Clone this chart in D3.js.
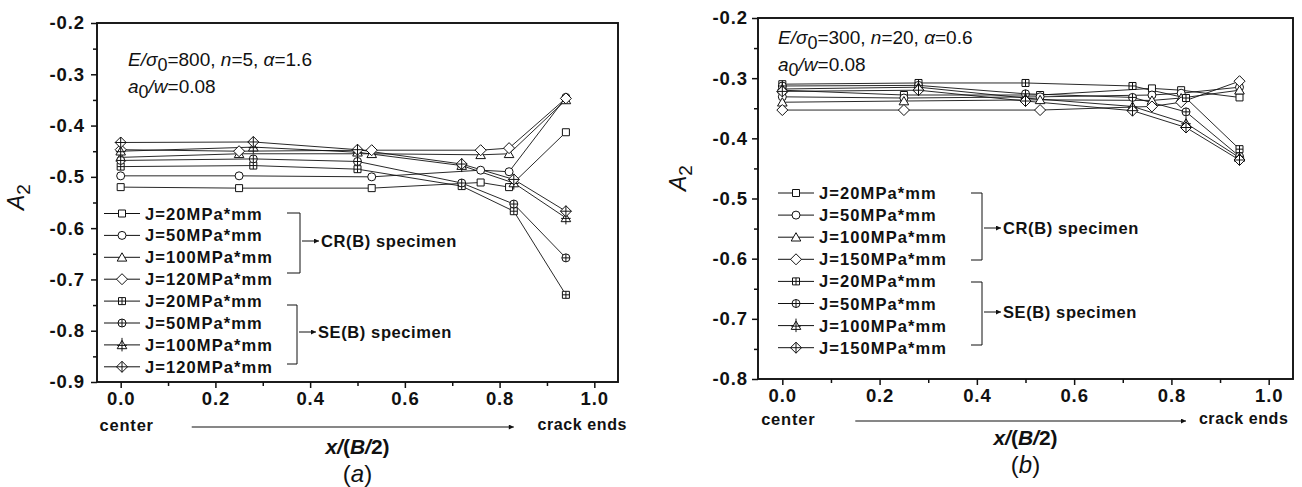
<!DOCTYPE html>
<html><head><meta charset="utf-8">
<script src="https://cdn.jsdelivr.net/npm/d3@7"></script>
<style>
body{margin:0;background:#fff;}
svg{display:block;font-family:"Liberation Sans",Arial,sans-serif;}
</style></head><body>
<svg id="chart" width="1302" height="487"></svg>
<script>
// ---- Panel (a): E/σ0=800, n=5, α=1.6 ----
const xCR_a = [0, 0.25, 0.53, 0.76, 0.82, 0.94];
const xSE_a = [0, 0.28, 0.50, 0.72, 0.83, 0.94];
const cr20_a  = [-0.520, -0.522, -0.522, -0.511, -0.520, -0.413];
const cr50_a  = [-0.498, -0.498, -0.500, -0.487, -0.490, -0.345];
const cr100_a = [-0.462, -0.455, -0.455, -0.457, -0.455, -0.350];
const cr120_a = [-0.447, -0.450, -0.448, -0.448, -0.444, -0.347];
const se20_a  = [-0.480, -0.478, -0.485, -0.518, -0.567, -0.730];
const se50_a  = [-0.468, -0.465, -0.470, -0.512, -0.553, -0.658];
const se100_a = [-0.450, -0.442, -0.452, -0.478, -0.512, -0.580];
const se120_a = [-0.433, -0.432, -0.447, -0.475, -0.505, -0.567];
const legend_a = ["J=20MPa*mm","J=50MPa*mm","J=100MPa*mm","J=120MPa*mm",
                  "J=20MPa*mm","J=50MPa*mm","J=100MPa*mm","J=120MPa*mm"];
const yTickVals_a = [-0.9,-0.8,-0.7,-0.6,-0.5,-0.4,-0.3,-0.2];
const yTickLabels_a = ["-0.9","-0.8","-0.7","-0.6","-0.5","-0.4","-0.3","-0.2"];

// ---- Panel (b): E/σ0=300, n=20, α=0.6 ----
const xCR_b = [0, 0.25, 0.53, 0.76, 0.82, 0.94];
const xSE_b = [0, 0.28, 0.50, 0.72, 0.83, 0.94];
const cr20_b  = [-0.320, -0.328, -0.328, -0.317, -0.320, -0.332];
const cr50_b  = [-0.331, -0.333, -0.331, -0.328, -0.325, -0.315];
const cr100_b = [-0.340, -0.338, -0.336, -0.337, -0.333, -0.320];
const cr150_b = [-0.353, -0.353, -0.353, -0.347, -0.340, -0.305];
const se20_b  = [-0.310, -0.308, -0.308, -0.313, -0.333, -0.418];
const se50_b  = [-0.313, -0.312, -0.326, -0.332, -0.356, -0.430];
const se100_b = [-0.318, -0.315, -0.333, -0.347, -0.375, -0.432];
const se150_b = [-0.322, -0.320, -0.338, -0.354, -0.382, -0.436];
const legend_b = ["J=20MPa*mm","J=50MPa*mm","J=100MPa*mm","J=150MPa*mm",
                  "J=20MPa*mm","J=50MPa*mm","J=100MPa*mm","J=150MPa*mm"];
const yTickVals_b = [-0.8,-0.7,-0.6,-0.5,-0.4,-0.3,-0.2];
const yTickLabels_b = ["-0.8","-0.7","-0.6","-0.5","-0.4","-0.3","-0.2"];

// shared x axis ticks
const xTickVals = [0, 0.2, 0.4, 0.6, 0.8, 1.0];
const xTickLabels = ["0.0","0.2","0.4","0.6","0.8","1.0"];
const xMinorVals = [0.1, 0.3, 0.5, 0.7, 0.9];
const shapes = ["square","circle","triangle","diamond","square","circle","triangle","diamond"];
const crossed = [false,false,false,false,true,true,true,true];

const svg = d3.select("#chart");
const INK = "#111";

svg.append("defs").append("marker")
  .attr("id","arrow").attr("viewBox","0 0 10 10").attr("refX",10).attr("refY",5)
  .attr("markerWidth",7).attr("markerHeight",5).attr("markerUnits","userSpaceOnUse")
  .attr("orient","auto")
  .append("path").attr("d","M0,0L10,5L0,10z").attr("fill",INK);

function drawMarker(g, shape, cross) {
  const s = g.append("g");
  let body, lines = "";
  if (shape === "square") {
    body = s.append("path").attr("d","M-3.5,-3.5h7v7h-7z");
    if (cross) lines = "M0,-3.5V3.5M-3.5,0H3.5";
  } else if (shape === "circle") {
    body = s.append("circle").attr("r",4);
    if (cross) lines = "M0,-4V4M-4,0H4";
  } else if (shape === "triangle") {
    body = s.append("path").attr("d","M0,-4.5L4.8,3.8L-4.8,3.8Z");
    if (cross) lines = "M0,-7V6.5M-4.8,0.5H4.8";
  } else {
    body = s.append("path").attr("d","M0,-5.5L5.5,0L0,5.5L-5.5,0Z");
    if (cross) lines = "M0,-5.5V5.5M-5.5,0H5.5";
  }
  body.attr("fill","#fff").attr("stroke",INK).attr("stroke-width",1);
  if (lines) s.append("path").attr("d",lines).attr("fill","none").attr("stroke",INK).attr("stroke-width",1);
  return s;
}

function boldText(sel, size, spacing) {
  return sel.attr("fill",INK).style("font-size",size+"px").style("font-weight","bold")
    .style("letter-spacing",spacing+"px");
}

function drawPanel(p) {
  const x = d3.scaleLinear().domain([-0.05, 1.05]).range([p.left, p.right]);
  const y = d3.scaleLinear().domain(p.yDomain).range([p.bottom, p.top]);
  const g = svg.append("g");

  // axes
  const xAxis = d3.axisBottom(x).tickValues(xTickVals)
    .tickFormat((d,i) => xTickLabels[i]).tickSize(6).tickSizeOuter(0).tickPadding(4);
  const gx = g.append("g").attr("transform",`translate(0,${p.bottom})`).call(xAxis);
  g.append("g").attr("transform",`translate(0,${p.bottom})`)
    .call(d3.axisBottom(x).tickValues(xMinorVals).tickFormat("").tickSize(4).tickSizeOuter(0));

  const yMinor = d3.range(p.yDomain[0] + 0.05, p.yDomain[1], 0.1);
  const yAxis = d3.axisLeft(y).tickValues(p.yTickVals)
    .tickFormat((d,i) => p.yTickLabels[i]).tickSize(6).tickSizeOuter(0).tickPadding(p.yPad);
  const gy = g.append("g").attr("transform",`translate(${p.left},0)`).call(yAxis);
  g.append("g").attr("transform",`translate(${p.left},0)`)
    .call(d3.axisLeft(y).tickValues(yMinor).tickFormat("").tickSize(4).tickSizeOuter(0));

  g.selectAll(".domain").remove();
  g.selectAll(".tick line").attr("stroke",INK).attr("stroke-width",1.5);
  [gx, gy].forEach(a => boldText(a.selectAll("text"), 18.5, 0.9)
    .style("font-family","'Liberation Sans',Arial,sans-serif"));

  // frame
  g.append("rect").attr("x",p.left).attr("y",p.top)
    .attr("width",p.right-p.left).attr("height",p.bottom-p.top)
    .attr("fill","none").attr("stroke",INK).attr("stroke-width",1.9);

  // series
  const line = d3.line().x(d => x(d[0])).y(d => y(d[1]));
  p.series.forEach((s) => {
    const pts = s.xs.map((v,j) => [v, s.ys[j]]);
    g.append("path").datum(pts).attr("d",line)
      .attr("fill","none").attr("stroke",INK).attr("stroke-width",0.9);
  });
  p.series.forEach((s) => {
    s.xs.forEach((v,j) => {
      drawMarker(g, s.shape, s.cross).attr("transform",`translate(${x(v)},${y(s.ys[j])})`);
    });
  });

  // legend
  const lg = g.append("g");
  p.legend.forEach((lab, i) => {
    const ry = p.legY + i * p.legStep;
    lg.append("line").attr("x1",p.legX).attr("x2",p.legX+36).attr("y1",ry).attr("y2",ry)
      .attr("stroke",INK).attr("stroke-width",1);
    drawMarker(lg, shapes[i], crossed[i]).attr("transform",`translate(${p.legX+18},${ry})`);
    boldText(lg.append("text").attr("x",p.legX+41).attr("y",ry+6).text(lab), 16.5, 1.1);
  });

  // brackets with arrows
  p.brackets.forEach(b => {
    lg.append("path").attr("d",`M${b.x0},${b.top}H${b.x1}V${b.bot}H${b.x0}`)
      .attr("fill","none").attr("stroke",INK).attr("stroke-width",1);
    lg.append("line").attr("x1",b.x1+2).attr("x2",b.x1+19).attr("y1",b.ay).attr("y2",b.ay)
      .attr("stroke",INK).attr("stroke-width",1).attr("marker-end","url(#arrow)");
    boldText(lg.append("text").attr("x",b.x1+21).attr("y",b.ay+6).text(b.label), 16.5, 0.6);
  });

  // parameter annotation
  const t1 = g.append("text").attr("x",p.annX).attr("y",p.annY).attr("fill",INK).style("font-size","19px");
  t1.append("tspan").style("font-style","italic").text("E/σ");
  t1.append("tspan").attr("dy",5).style("font-size","18px").text("0");
  t1.append("tspan").attr("dy",-5).text("=" + p.ann[0] + ", ");
  t1.append("tspan").style("font-style","italic").text("n");
  t1.append("tspan").text("=" + p.ann[1] + ", ");
  t1.append("tspan").style("font-style","italic").text("α");
  t1.append("tspan").text("=" + p.ann[2]);
  const t2 = g.append("text").attr("x",p.annX).attr("y",p.annY+27).attr("fill",INK).style("font-size","19px");
  t2.append("tspan").style("font-style","italic").text("a");
  t2.append("tspan").attr("dy",5).style("font-size","18px").text("0");
  t2.append("tspan").attr("dy",-5).style("font-style","italic").text("/w");
  t2.append("tspan").text("=0.08");

  // y title
  const yt = g.append("text").attr("transform",`translate(${p.yTitleX},${p.yTitleY}) rotate(-90)`)
    .attr("text-anchor","middle").attr("fill",INK).style("font-size","23px");
  yt.append("tspan").style("font-style","italic").text("A");
  yt.append("tspan").attr("dy",6).style("font-size","19px").text("2");

  // x annotations: center, arrow, crack ends, title, panel tag
  const x0 = x(0), x1 = x(1);
  boldText(g.append("text").attr("x",x0+6).attr("y",p.bottom+p.cenDy).attr("text-anchor","middle").text("center"), 16.5, 0.8);
  g.append("line").attr("x1",x(0.15)).attr("x2",x(0.83)).attr("y1",p.bottom+p.arrDy).attr("y2",p.bottom+p.arrDy)
    .attr("stroke",INK).attr("stroke-width",1.2).attr("marker-end","url(#arrow)");
  boldText(g.append("text").attr("x",x1+p.crackDx).attr("y",p.bottom+p.cenDy-1).attr("text-anchor","middle").text("crack ends"), 16, 0.6);
  const xt = g.append("text").attr("x",x(0.5)).attr("y",p.bottom+p.titDy).attr("text-anchor","middle")
    .attr("fill",INK).style("font-size","21px").style("font-weight","bold");
  xt.append("tspan").style("font-style","italic").text("x/");
  xt.append("tspan").text("(");
  xt.append("tspan").style("font-style","italic").text("B/");
  xt.append("tspan").text("2)");
  const tag = g.append("text").attr("x",x(0.5)).attr("y",p.bottom+p.tagDy).attr("text-anchor","middle")
    .attr("fill",INK).style("font-size","24px");
  tag.append("tspan").text("(");
  tag.append("tspan").style("font-style","italic").text(p.tag);
  tag.append("tspan").text(")");
}

drawPanel({
  left:97, right:618, top:23, bottom:382, yDomain:[-0.9,-0.2],
  yTickVals:yTickVals_a, yTickLabels:yTickLabels_a, yPad:6,
  series:[
    {xs:xCR_a, ys:cr20_a, shape:"square", cross:false},
    {xs:xCR_a, ys:cr50_a, shape:"circle", cross:false},
    {xs:xCR_a, ys:cr100_a, shape:"triangle", cross:false},
    {xs:xCR_a, ys:cr120_a, shape:"diamond", cross:false},
    {xs:xSE_a, ys:se20_a, shape:"square", cross:true},
    {xs:xSE_a, ys:se50_a, shape:"circle", cross:true},
    {xs:xSE_a, ys:se100_a, shape:"triangle", cross:true},
    {xs:xSE_a, ys:se120_a, shape:"diamond", cross:true}
  ],
  legend:legend_a, legX:104, legY:213.5, legStep:21.9,
  brackets:[
    {x0:287, x1:300, top:213, bot:273, ay:241, label:"CR(B) specimen"},
    {x0:287, x1:297, top:305, bot:364, ay:332, label:"SE(B) specimen"}
  ],
  ann:["800","5","1.6"], annX:128, annY:66,
  yTitleX:24, yTitleY:197,
  cenDy:49, arrDy:45, titDy:72, tagDy:100, tag:"a", crackDx:-12
});

drawPanel({
  left:758, right:1293, top:18, bottom:379, yDomain:[-0.8,-0.2],
  yTickVals:yTickVals_b, yTickLabels:yTickLabels_b, yPad:4,
  series:[
    {xs:xCR_b, ys:cr20_b, shape:"square", cross:false},
    {xs:xCR_b, ys:cr50_b, shape:"circle", cross:false},
    {xs:xCR_b, ys:cr100_b, shape:"triangle", cross:false},
    {xs:xCR_b, ys:cr150_b, shape:"diamond", cross:false},
    {xs:xSE_b, ys:se20_b, shape:"square", cross:true},
    {xs:xSE_b, ys:se50_b, shape:"circle", cross:true},
    {xs:xSE_b, ys:se100_b, shape:"triangle", cross:true},
    {xs:xSE_b, ys:se150_b, shape:"diamond", cross:true}
  ],
  legend:legend_b, legX:778, legY:193, legStep:22.1,
  brackets:[
    {x0:971, x1:982, top:193, bot:260, ay:228, label:"CR(B) specimen"},
    {x0:971, x1:982, top:282, bot:345, ay:312, label:"SE(B) specimen"}
  ],
  ann:["300","20","0.6"], annX:778, annY:44,
  yTitleX:686, yTitleY:178,
  cenDy:46, arrDy:42, titDy:66, tagDy:94, tag:"b", crackDx:-25
});
</script>
</body></html>
